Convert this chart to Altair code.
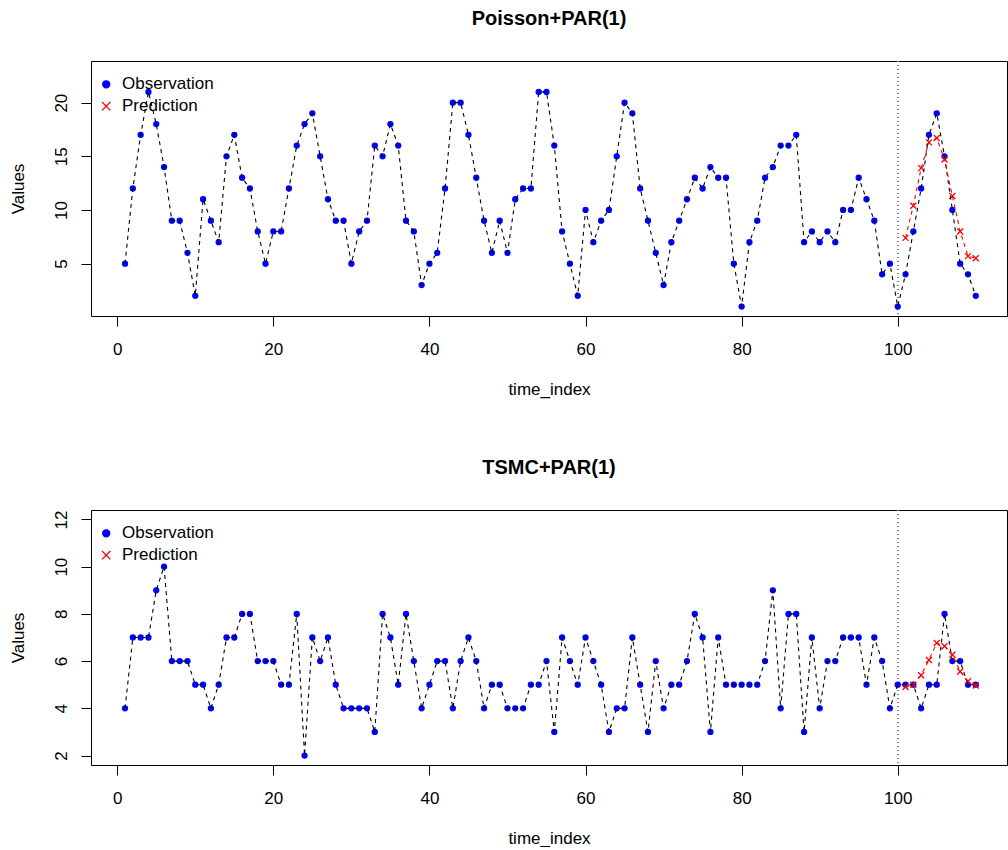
import altair as alt
import pandas as pd

# Time axis: 110 observed steps, the last 10 also forecast
time_index = list(range(1, 111))
pred_index = list(range(101, 111))

poisson_obs = [
    5, 12, 17, 21, 18, 14, 9, 9, 6, 2,
    11, 9, 7, 15, 17, 13, 12, 8, 5, 8,
    8, 12, 16, 18, 19, 15, 11, 9, 9, 5,
    8, 9, 16, 15, 18, 16, 9, 8, 3, 5,
    6, 12, 20, 20, 17, 13, 9, 6, 9, 6,
    11, 12, 12, 21, 21, 16, 8, 5, 2, 10,
    7, 9, 10, 15, 20, 19, 12, 9, 6, 3,
    7, 9, 11, 13, 12, 14, 13, 13, 5, 1,
    7, 9, 13, 14, 16, 16, 17, 7, 8, 7,
    8, 7, 10, 10, 13, 11, 9, 4, 5, 1,
    4, 8, 12, 17, 19, 15, 10, 5, 4, 2,
]
poisson_pred = [7.4, 10.4, 13.9, 16.3, 16.7, 14.7, 11.3, 8.0, 5.7, 5.5]

tsmc_obs = [
    4, 7, 7, 7, 9, 10, 6, 6, 6, 5,
    5, 4, 5, 7, 7, 8, 8, 6, 6, 6,
    5, 5, 8, 2, 7, 6, 7, 5, 4, 4,
    4, 4, 3, 8, 7, 5, 8, 6, 4, 5,
    6, 6, 4, 6, 7, 6, 4, 5, 5, 4,
    4, 4, 5, 5, 6, 3, 7, 6, 5, 7,
    6, 5, 3, 4, 4, 7, 5, 3, 6, 4,
    5, 5, 6, 8, 7, 3, 7, 5, 5, 5,
    5, 5, 6, 9, 4, 8, 8, 3, 7, 4,
    6, 6, 7, 7, 7, 5, 7, 6, 4, 5,
    5, 5, 4, 5, 5, 8, 6, 6, 5, 5,
]
tsmc_pred = [4.9, 5.0, 5.4, 6.05, 6.77, 6.63, 6.27, 5.56, 5.15, 4.97]

series_names = ["Observation", "Prediction"]
series_colors = ["blue", "red"]
cross_path = "M-1.2,-1.2L1.2,1.2M-1.2,1.2L1.2,-1.2"

x_ticks = [0, 20, 40, 60, 80, 100]
poisson_y_ticks = [5, 10, 15, 20]
tsmc_y_ticks = [2, 4, 6, 8, 10, 12]
forecast_start = 100

FONT = "Liberation Sans"
PLOT_W, PLOT_H = 916, 255
X_DOMAIN = [-3.36, 114.0]


def panel(title, obs, pred, y_domain, y_ticks):
    obs_df = pd.DataFrame({"t": time_index, "value": obs, "series": "Observation"})
    pred_df = pd.DataFrame({"t": pred_index, "value": pred, "series": "Prediction"})
    pts = pd.concat([obs_df, pred_df], ignore_index=True)

    x = alt.X(
        "t:Q",
        scale=alt.Scale(domain=X_DOMAIN, nice=False, zero=False),
        axis=alt.Axis(values=x_ticks, title="time_index", titleY=78,
                      titleBaseline="alphabetic", labelBaseline="top"),
    )
    y = alt.Y(
        "value:Q",
        scale=alt.Scale(domain=y_domain, nice=False, zero=False),
        axis=alt.Axis(values=y_ticks, title="Values", titleX=-68, titleAngle=270,
                      titleBaseline="alphabetic", labelAngle=270,
                      labelAlign="center", labelBaseline="alphabetic"),
    )
    legend = alt.Legend(title=None, orient="none", legendX=6.7, legendY=14.8,
                        symbolSize=49, symbolStrokeWidth=1.3, symbolOpacity=1,
                        labelOffset=7.3, rowPadding=3.9, padding=0)
    fill = alt.Fill("series:N", scale=alt.Scale(domain=series_names, range=series_colors),
                    legend=legend)
    stroke = alt.Stroke("series:N", scale=alt.Scale(domain=series_names, range=series_colors),
                        legend=legend)
    shape = alt.Shape("series:N", scale=alt.Scale(domain=series_names,
                                                  range=["circle", cross_path]),
                      legend=legend)

    vline = alt.Chart(pts).mark_rule(color="gray", strokeDash=[1, 3], strokeWidth=1).encode(
        x=alt.datum(forecast_start)
    )
    points = alt.Chart(pts).mark_point(filled=True, size=25, strokeWidth=1.3, opacity=1).encode(
        x=x, y=y, fill=fill, stroke=stroke, shape=shape
    )
    obs_line = alt.Chart(obs_df).mark_line(color="black", strokeDash=[4, 4], strokeWidth=1.1).encode(
        x=x, y=y
    )
    pred_line = alt.Chart(pred_df).mark_line(color="red", strokeDash=[4, 4], strokeWidth=1.1).encode(
        x=x, y=y
    )
    return alt.layer(vline, points, obs_line, pred_line).properties(
        width=PLOT_W, height=PLOT_H,
        title=alt.Title(title, offset=16, baseline="alphabetic", frame="group", anchor="middle"),
    )


top = panel("Poisson+PAR(1)", poisson_obs, poisson_pred, [0.12, 23.88], poisson_y_ticks)
bottom = panel("TSMC+PAR(1)", tsmc_obs, tsmc_pred, [1.6, 12.4], tsmc_y_ticks)

chart = (
    alt.vconcat(top, bottom, spacing=194, bounds="flush")
    .resolve_scale(fill="independent", stroke="independent", shape="independent")
    .resolve_legend(fill="independent", stroke="independent", shape="independent")
    .properties(padding={"left": 8, "top": 8, "right": 0, "bottom": 0})
    .configure_axis(labelFont=FONT, titleFont=FONT, labelFontSize=17, titleFontSize=17,
                    titleFontWeight="normal", labelColor="black", titleColor="black",
                    tickColor="black", tickSize=10, tickWidth=1, labelPadding=15,
                    grid=False, domain=False)
    .configure_view(stroke="black", strokeWidth=1)
    .configure_legend(labelFont=FONT, labelFontSize=17, labelColor="black")
    .configure_title(font=FONT, fontSize=20, fontWeight="bold", color="black")
)

chart.save("out.html", embed_options={"renderer": "svg", "actions": False})
